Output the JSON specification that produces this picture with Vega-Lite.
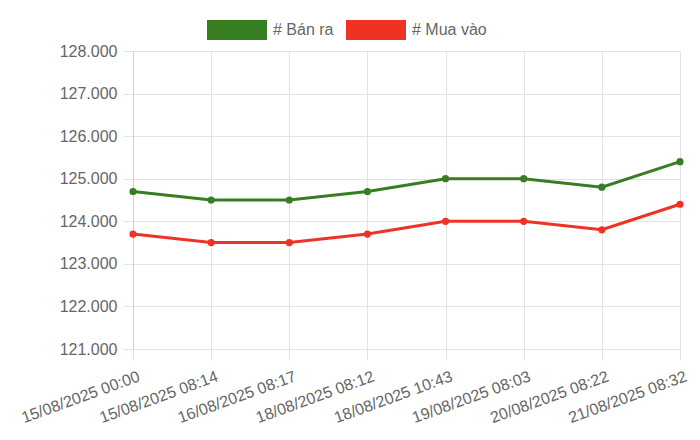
{
  "$schema": "https://vega.github.io/schema/vega-lite/v6.json",
  "width": 547,
  "height": 298,
  "autosize": {"type": "none"},
  "padding": {"left": 133, "top": 51, "right": 20, "bottom": 91},
  "background": "white",
  "config": {
    "locale": {"number": {"decimal": ",", "thousands": ".", "grouping": [3], "currency": ["", ""]}},
    "view": {"stroke": null},
    "font": "Liberation Sans",
    "axis": {"labelColor": "#666666", "labelFontSize": 16, "gridColor": "#e2e2e2", "domainColor": "#d0d0d0", "tickColor": "#e2e2e2"}
  },
  "data": {
    "values": [
      {"t": "15/08/2025 00:00", "s": "# Bán ra", "v": 124700},
      {"t": "15/08/2025 08:14", "s": "# Bán ra", "v": 124500},
      {"t": "16/08/2025 08:17", "s": "# Bán ra", "v": 124500},
      {"t": "18/08/2025 08:12", "s": "# Bán ra", "v": 124700},
      {"t": "18/08/2025 10:43", "s": "# Bán ra", "v": 125000},
      {"t": "19/08/2025 08:03", "s": "# Bán ra", "v": 125000},
      {"t": "20/08/2025 08:22", "s": "# Bán ra", "v": 124800},
      {"t": "21/08/2025 08:32", "s": "# Bán ra", "v": 125400},
      {"t": "15/08/2025 00:00", "s": "# Mua vào", "v": 123700},
      {"t": "15/08/2025 08:14", "s": "# Mua vào", "v": 123500},
      {"t": "16/08/2025 08:17", "s": "# Mua vào", "v": 123500},
      {"t": "18/08/2025 08:12", "s": "# Mua vào", "v": 123700},
      {"t": "18/08/2025 10:43", "s": "# Mua vào", "v": 124000},
      {"t": "19/08/2025 08:03", "s": "# Mua vào", "v": 124000},
      {"t": "20/08/2025 08:22", "s": "# Mua vào", "v": 123800},
      {"t": "21/08/2025 08:32", "s": "# Mua vào", "v": 124400}
    ]
  },
  "mark": {"type": "line", "strokeWidth": 3, "point": {"size": 52, "filled": true, "opacity": 1}},
  "encoding": {
    "x": {
      "field": "t", "type": "ordinal", "sort": null,
      "scale": {"type": "point", "padding": 0},
      "axis": {"title": null, "labelAngle": -20, "labelAlign": "right", "labelBaseline": "top", "labelPadding": 8, "labelOffset": 3, "tickSize": 11, "grid": true, "domain": false}
    },
    "y": {
      "field": "v", "type": "quantitative",
      "scale": {"domain": [121000, 128000], "nice": false, "zero": false},
      "axis": {"title": null, "format": ",d", "values": [121000,122000,123000,124000,125000,126000,127000,128000], "tickSize": 10, "labelPadding": 6, "domain": true}
    },
    "color": {
      "field": "s", "type": "nominal",
      "scale": {"domain": ["# Bán ra", "# Mua vào"], "range": ["#377d22", "#ee3325"]},
      "legend": {
        "title": null, "orient": "none", "direction": "horizontal",
        "legendX": 74, "legendY": -51,
        "symbolType": "M-1,-0.333H1V0.333H-1Z", "symbolSize": 3600,
        "symbolStrokeWidth": 0, "symbolOpacity": 1,
        "labelFontSize": 16, "labelColor": "#666666", "labelOffset": 6,
        "columnPadding": 12
      }
    }
  }
}
